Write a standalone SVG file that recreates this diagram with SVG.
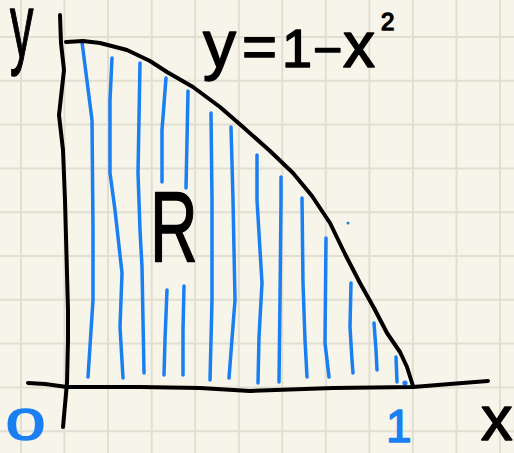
<svg xmlns="http://www.w3.org/2000/svg" width="514" height="453" viewBox="0 0 514 453">
<defs>
<style>
.grid{stroke:#e2dfd1;stroke-width:2;fill:none}
.ink{stroke:#000;stroke-width:4;fill:none;stroke-linecap:round;stroke-linejoin:round}
.hatch{stroke:#1a7ff3;stroke-width:3.5;fill:none;stroke-linecap:round;stroke-linejoin:round}
.tk{font-family:"Liberation Sans",Arial,sans-serif;fill:#000;stroke:#000;stroke-width:1.5;stroke-linejoin:round}
.tb{font-family:"Liberation Sans",Arial,sans-serif;fill:#1a7ff3;stroke:#1a7ff3;stroke-width:1.5;stroke-linejoin:round}
</style>
</defs>
<rect width="514" height="453" fill="#f7f5ea"/>
<path class="grid" d="M21 0V453M64.5 0V453M108 0V453M151.7 0V453M195.2 0V453M238.8 0V453M282.3 0V453M325.8 0V453M369.4 0V453M412.9 0V453M456.5 0V453M500 0V453M0 37H514M0 80.8H514M0 124.6H514M0 168.4H514M0 212.2H514M0 256H514M0 299.8H514M0 343.6H514M0 387.4H514M0 431.2H514"/>
<g id="hatching">
<path class="hatch" d="M82 42L92 120L93 230L93 300L88 377"/>
<path class="hatch" d="M112 58L110 100L110 173L115 210L122 273L120 327L123 378"/>
<path class="hatch" d="M140 63L138 173L140 230L142 267L144 373"/>
<path class="hatch" d="M166 78L162 130L162 182"/>
<path class="hatch" d="M167 290L165 340L164 375"/>
<path class="hatch" d="M188 91L187 140L186 188"/>
<path class="hatch" d="M184 286L183 330L183 375"/>
<path class="hatch" d="M211 113L212 200L212 300L210 380"/>
<path class="hatch" d="M231 127L233 200L235 300L229 378"/>
<path class="hatch" d="M257 155L257 200L262 283L259 337L258 383"/>
<path class="hatch" d="M281 177L281 200L280 300L279 382"/>
<path class="hatch" d="M302 198L303 283L305 340L307 377"/>
<path class="hatch" d="M326 238L325 343L329 377"/>
<path class="hatch" d="M351 283L350 327L352 360L353 373"/>
<path class="hatch" d="M374 323L376 350L377 370"/>
<path class="hatch" d="M396 357L397 382"/>
<circle cx="405" cy="383" r="2.6" fill="#1a7ff3"/>
<circle cx="348" cy="223" r="1.5" fill="#1a7ff3"/>
</g>
<g id="axes">
<path class="ink" d="M60 15L61 43L64 70L59 115L63 150L65 200L68 310L68 340L67 383L63 427"/>
<path class="ink" d="M28 383L45 384L67 387L140 387L200 388L250 391L333 388L413 387L450 384L488 381"/>
</g>
<g id="curve">
<path class="ink" d="M66 42L83 41L100 43L127 50L150 61L167 72L193 87L220 107L243 127L270 151L293 173L312 196L330 223L345 254L360 283L374 308L387 333L400 352L407 367L413 386"/>
</g>
<g id="labels">
<text class="tk" transform="translate(10,57) scale(0.52,1)" font-size="90">y</text>
<text class="tk" font-size="60" y="67"><tspan x="203" font-size="66">y</tspan><tspan x="242">=</tspan><tspan x="282" font-size="54">1</tspan><tspan x="313" font-size="50">−</tspan><tspan x="343" font-size="64">x</tspan><tspan x="381" y="30" font-size="24">2</tspan></text>
<text class="tk" transform="translate(150,262) scale(0.66,1)" font-size="100" stroke-width="0.5">R</text>
<text class="tb" transform="translate(6,440) scale(1.6,1)" font-size="44">0</text>
<text class="tb" x="386" y="442" font-size="46">1</text>
<text class="tk" x="481" y="440" font-size="63">x</text>
</g>
</svg>
